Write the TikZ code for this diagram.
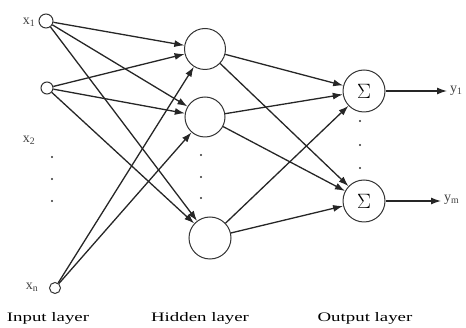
\documentclass[tikz,border=0pt]{standalone}
\usepackage{fontspec}
\setmainfont{Liberation Serif}
\usetikzlibrary{arrows.meta}
\tikzset{
  neuron/.style={circle, draw=black!80, line width=1pt, inner sep=0pt},
  inunit/.style={circle, draw=black!80, line width=1pt, inner sep=0pt},
  link/.style={draw=black!85, line width=1.3pt, -{Latex[length=10pt,width=7pt]}},
  varlabel/.style={inner sep=0pt, font=\fontsize{14}{14}\selectfont, text=black!75},
  layerlabel/.style={inner sep=0pt, font=\fontsize{13}{13}\selectfont, text=black},
  vdot/.style={circle, fill=black!80, inner sep=0pt, minimum size=2.4pt}
}
\newcommand{\stretched}[1]{\scalebox{1.45}[1]{#1}}
\begin{document}
\begin{tikzpicture}[x=1pt, y=-1pt]
\useasboundingbox (0,0) rectangle (466,328);

% input units
\node[inunit, minimum size=14pt] (i1) at (46,21) {};
\node[inunit, minimum size=12pt] (i2) at (47,88) {};
\node[inunit, minimum size=11pt] (in) at (55,288) {};
\node[varlabel] (lx1) at (29,22) {x\textsubscript{1}};
\node[varlabel] (lx2) at (29,140) {x\textsubscript{2}};
\node[varlabel] (lxn) at (32,287) {x\textsubscript{n}};
\node[vdot] (di1) at (52,157) {};
\node[vdot] (di2) at (52,179) {};
\node[vdot] (di3) at (52,201) {};

% hidden units
\node[neuron, minimum size=41pt] (h1) at (205,49) {};
\node[neuron, minimum size=40pt] (h2) at (205,117) {};
\node[neuron, minimum size=42pt] (h3) at (210,238) {};
\node[vdot] (dh1) at (201,155) {};
\node[vdot] (dh2) at (201,177) {};
\node[vdot] (dh3) at (201,198) {};

% output units
\node[neuron, minimum size=42pt, font=\fontsize{20}{20}\selectfont] (o1) at (364,91) {$\Sigma$};
\node[neuron, minimum size=42pt, font=\fontsize{20}{20}\selectfont] (o2) at (364,201) {$\Sigma$};
\node[vdot] (do1) at (360,121) {};
\node[vdot] (do2) at (360,145) {};
\node[vdot] (do3) at (360,168) {};

% outputs
\coordinate (y1end) at (447,91);
\coordinate (ymend) at (441,201);
\node[varlabel, anchor=west] (ly1) at (450,91) {y\textsubscript{1}};
\node[varlabel, anchor=west] (lym) at (444,200) {y\textsubscript{m}};

% input -> hidden
\draw[link] (i1) -- (h1);
\draw[link] (i1) -- (h2);
\draw[link] (i1) -- (h3);
\draw[link] (i2) -- (h1);
\draw[link] (i2) -- (h2);
\draw[link] (i2) -- (h3);
\draw[link] (in) -- (h1);
\draw[link] (in) -- (h2);

% hidden -> output
\foreach \h in {h1,h2,h3}{
  \draw[link] (\h) -- (o1);
  \draw[link] (\h) -- (o2);
}

% output arrows
\draw[link] (o1) -- (y1end);
\draw[link] (o2) -- (ymend);

% layer captions
\node[layerlabel] (cin) at (48,318) {\stretched{Input layer}};
\node[layerlabel] (chid) at (200,318) {\stretched{Hidden layer}};
\node[layerlabel] (cout) at (365,318) {\stretched{Output layer}};
\end{tikzpicture}
\end{document}
